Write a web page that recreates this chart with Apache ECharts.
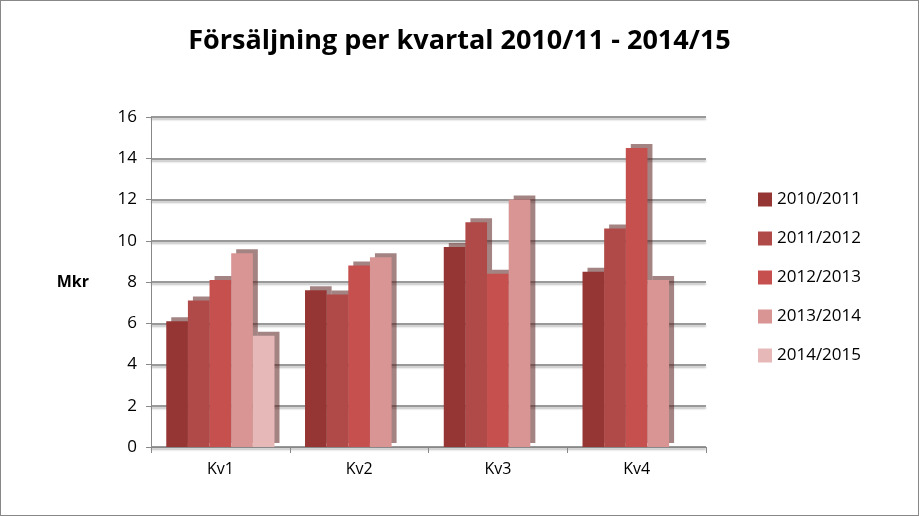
<!DOCTYPE html>
<html>
<head>
<meta charset="utf-8">
<script src="https://cdn.jsdelivr.net/npm/echarts@6/dist/echarts.min.js"></script>
<style>
html,body{margin:0;padding:0;background:#fff;}
#chart{width:917px;height:514px;border:1px solid #888;}
</style>
</head>
<body>
<div id="chart"></div>
<script>
// data (Mkr)
var categories = ["Kv1", "Kv2", "Kv3", "Kv4"];
var seriesNames = ["2010/2011", "2011/2012", "2012/2013", "2013/2014", "2014/2015"];
var s2010 = [6.1, 7.6, 9.7, 8.5];
var s2011 = [7.1, 7.4, 10.9, 10.6];
var s2012 = [8.1, 8.8, 8.4, 14.5];
var s2013 = [9.4, 9.2, 12.0, 8.1];
var s2014 = [5.4, 0, 0, 0];
var yTicks = [0, 2, 4, 6, 8, 10, 12, 14, 16];

var colors = ["#963634", "#b04a48", "#c6504e", "#d99594", "#e6b9b8"];
var allValues = [s2010, s2011, s2012, s2013, s2014];

var series = [];
for (var i = 0; i < seriesNames.length; i++) {
    series.push({
        name: seriesNames[i],
        type: 'bar',
        data: allValues[i],
        barGap: '0%',
        barCategoryGap: '22%',
        itemStyle: {
            color: colors[i],
            shadowColor: 'rgba(90,30,30,0.55)',
            shadowOffsetX: 5,
            shadowOffsetY: -4,
            shadowBlur: 0
        }
    });
}

var chart = echarts.init(document.getElementById('chart'));
chart.setOption({
    color: colors,
    title: {
        text: 'Försäljning per kvartal 2010/11 - 2014/15',
        left: 'center',
        top: 22,
        textStyle: {fontFamily: 'Open Sans', fontSize: 27, fontWeight: 'bold', color: '#000'}
    },
    legend: {
        orient: 'vertical',
        left: 752,
        top: 185,
        itemGap: 22,
        itemWidth: 14,
        itemHeight: 14,
        icon: 'rect',
        data: seriesNames,
        textStyle: {fontFamily: 'Open Sans', fontSize: 17, color: '#000'}
    },
    grid: {left: 150, right: 212, top: 116, bottom: 68},
    xAxis: {
        type: 'category',
        data: categories,
        axisLine: {lineStyle: {color: '#888'}},
        axisTick: {show: true, alignWithLabel: false, lineStyle: {color: '#888'}, length: 6},
        axisLabel: {fontFamily: 'Open Sans', fontSize: 16, color: '#000', margin: 14}
    },
    yAxis: {
        type: 'value',
        min: 0,
        max: 16,
        interval: 2,
        name: 'Mkr',
        nameLocation: 'middle',
        nameRotate: 0,
        nameGap: 62,
        nameTextStyle: {fontFamily: 'Open Sans', fontSize: 16, fontWeight: 'bold', color: '#000'},
        axisLine: {show: true, lineStyle: {color: '#888'}},
        axisTick: {show: true, lineStyle: {color: '#888'}},
        axisLabel: {
            fontFamily: 'Open Sans', fontSize: 17, color: '#000', margin: 14,
            formatter: function (v) { return yTicks.indexOf(v) >= 0 ? v : ''; }
        },
        splitLine: {lineStyle: {color: '#999', width: 2, shadowColor: 'rgba(0,0,0,0.25)', shadowOffsetY: 2, shadowBlur: 2}}
    },
    series: series
});
</script>
</body>
</html>
